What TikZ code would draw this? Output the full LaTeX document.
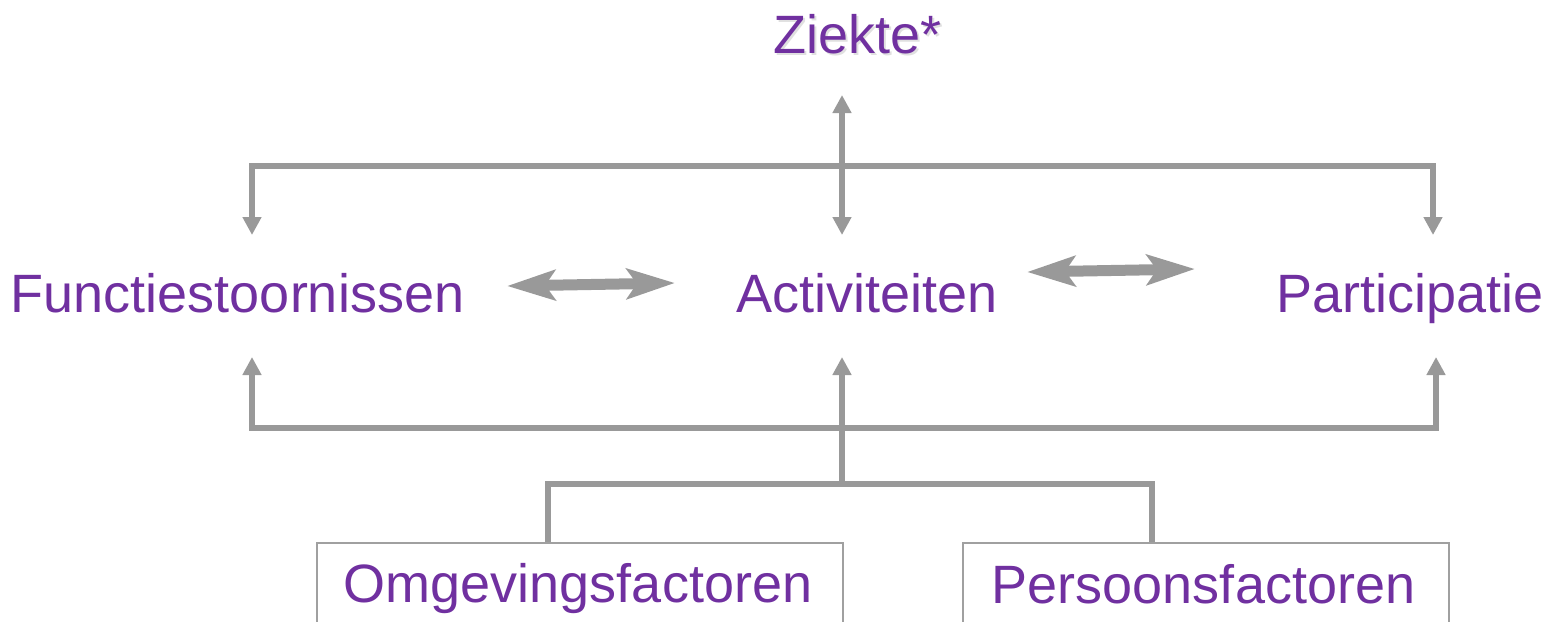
\documentclass[tikz,border=0pt]{standalone}
\usepackage{fontspec}
\setmainfont{Liberation Sans}
\usetikzlibrary{arrows.meta}

\definecolor{icfpurple}{rgb}{0.439216, 0.188235, 0.627451}
\definecolor{icfgray}{rgb}{0.600000, 0.600000, 0.600000}
\definecolor{icfboxline}{rgb}{0.627451, 0.627451, 0.627451}

\tikzset{
  icftext/.style={text=icfpurple, font=\fontsize{27}{32}\selectfont, inner sep=0pt, anchor=base},
  conn/.style={draw=icfgray, line width=3pt},
  icftip/.tip={Triangle[length=9pt,width=9pt]},
  fat/.style={draw=icfgray, line width=5.5pt,
    {Stealth[length=24pt,width=15pt,inset=5pt]}-{Stealth[length=24pt,width=15pt,inset=5pt]}},
  factbox/.style={draw=icfboxline, line width=1pt, inner sep=0pt, anchor=north west}
}

\begin{document}
\begin{tikzpicture}[x=0.5pt,y=-0.5pt]
\useasboundingbox (0,0) rectangle (1556,621);
\clip (0,0) rectangle (1556,621);

% boxes at the bottom
\node[factbox, minimum width=263pt, minimum height=54pt] (omgbox) at (316,542) {};
\node[factbox, minimum width=243pt, minimum height=54pt] (persbox) at (962,542) {};

% texts
\node[icftext, text=black!12] (ziekteshadow) at (859.5,55.5) {Ziekte*};
\node[icftext] (ziekte) at (857.5,53) {Ziekte*};
\node[icftext] (fun) at (237.5,312) {Functiestoornissen};
\node[icftext] (act) at (867,312) {Activiteiten};
\node[icftext] (par) at (1410,312) {Participatie};
\node[icftext] (omg) at (578,602) {Omgevingsfactoren};
\node[icftext] (pers) at (1203.5,603) {Persoonsfactoren};

% end points of the connectors
\coordinate (ziekte-in) at (842,95);
\coordinate (act-top) at (842,235);
\coordinate (fun-top) at (252,235);
\coordinate (par-top) at (1433,235);
\coordinate (top-r) at (1433,166);
\coordinate (fun-bot) at (252,357);
\coordinate (act-bot) at (842,357);
\coordinate (par-bot) at (1436,357);
\coordinate (bot-r) at (1436,428);
\coordinate (hub) at (842,484);
\coordinate (omg-up) at (548,484);
\coordinate (pers-up) at (1152,484);

% upper bracket
\draw[conn, icftip-icftip] (fun-top) |- (top-r) -- (par-top);
\draw[conn, icftip-icftip] (ziekte-in) -- (act-top);

% lower bracket
\draw[conn, icftip-icftip] (fun-bot) |- (bot-r) -- (par-bot);
\draw[conn, -icftip] (hub) -- (act-bot);
\draw[conn] (omgbox.north -| omg-up) -- (omg-up) -- (pers-up) -- (persbox.north -| pers-up);

% double arrows between the texts
\coordinate (fa-l) at (507,286);
\coordinate (fa-r) at (675,283);
\coordinate (fb-l) at (1027,272);
\coordinate (fb-r) at (1195,269);
\draw[fat] (fa-l) -- (fa-r);
\draw[fat] (fb-l) -- (fb-r);
\end{tikzpicture}
\end{document}
